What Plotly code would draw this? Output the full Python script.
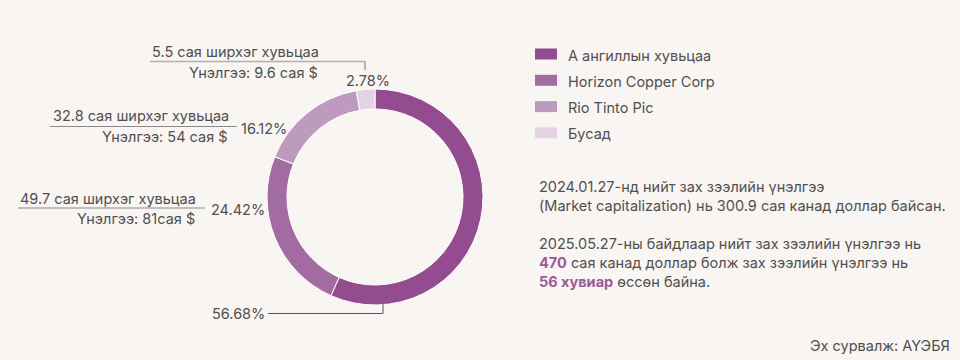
import plotly.graph_objects as go

# ---- data ----
labels = ["А ангиллын хувьцаа", "Horizon Copper Corp", "Rio Tinto Pic", "Бусад"]
shares_pct = [56.68, 24.42, 16.12, 2.78]
colors = ["#934c8f", "#a26ba1", "#bf9abf", "#e3d3e3"]
share_counts = [None, "49.7 сая ширхэг хувьцаа", "32.8 сая ширхэг хувьцаа", "5.5 сая ширхэг хувьцаа"]
valuations = [None, "Үнэлгээ: 81сая $", "Үнэлгээ: 54 сая $", "Үнэлгээ: 9.6 сая $"]
note1 = "2024.01.27-нд нийт зах зээлийн үнэлгээ<br>(Market capitalization) нь 300.9 сая канад доллар байсан."
note2 = ("2025.05.27-ны байдлаар нийт зах зээлийн үнэлгээ нь<br>"
         "<b><span style='color:#9b5a98'>470</span></b> сая канад доллар болж зах зээлийн үнэлгээ нь<br>"
         "<b><span style='color:#9b5a98'>56 хувиар</span></b> өссөн байна.")
source = "Эх сурвалж: АҮЭБЯ"

W, H = 960, 360
BG = "#f8f5f2"
TXT = "#505050"
FONT = "Inter"
FS = 14.5


def px(x):
    return x / W


def py(y):
    return 1 - y / H


fig = go.Figure()
fig.add_trace(go.Pie(
    labels=labels, values=shares_pct, hole=0.815, sort=False, direction="clockwise",
    rotation=0, marker=dict(colors=colors, line=dict(color="white", width=1)),
    textinfo="none", hoverinfo="label+percent", showlegend=False,
    domain=dict(x=[px(267), px(483)], y=[py(305), py(89)]),
))

ann = []
shapes = []


def text(x, y, t, anchor="left", size=FS, color=TXT):
    ann.append(dict(x=px(x), y=py(y), xref="paper", yref="paper", text=t, showarrow=False,
                    xanchor=anchor, yanchor="middle", font=dict(family=FONT, size=size, color=color),
                    align=anchor if anchor != "center" else "center"))


def line(x0, y0, x1, y1, color="#888888", width=1.2):
    shapes.append(dict(type="line", xref="paper", yref="paper", x0=px(x0), y0=py(y0), x1=px(x1), y1=py(y1),
                       line=dict(color=color, width=width)))


# 2.78% label (Бусад)
text(150, 52, share_counts[3], "left")
line(150, 61.5, 365, 61.5, "#b0b0b0", 1.5)
line(365, 61.5, 365, 70, "#777777", 1)
text(320, 73, valuations[3], "right")
text(344, 80, f"{shares_pct[3]:.2f}%", "left")

# 16.12% (Rio Tinto)
text(51, 116, share_counts[2], "left")
line(50, 126.5, 237, 126.5, "#8a8a8a", 1.2)
text(230, 136, valuations[2], "right")
text(239, 128, f"{shares_pct[2]:.2f}%", "left")

# 24.42% (Horizon)
text(18, 198, share_counts[1], "left")
line(18, 208, 205, 208, "#8a8a8a", 1.2)
text(197, 219, valuations[1], "right")
text(209, 209, f"{shares_pct[1]:.2f}%", "left")

# 56.68% (A class)
text(210, 313, f"{shares_pct[0]:.2f}%", "left")
line(268, 313.5, 383, 313.5, "#555555", 1)
line(383, 313.5, 383, 304, "#555555", 1)

# legend
for i, (lab, col) in enumerate(zip(labels, colors)):
    yc = 54 + i * 26.3
    shapes.append(dict(type="rect", xref="paper", yref="paper", x0=px(535), x1=px(557),
                       y0=py(yc - 5.5), y1=py(yc + 5.5), fillcolor=col, line=dict(width=0)))
    text(566, yc + 1, lab, "left")

# notes
ann.append(dict(x=px(537), y=py(196), xref="paper", yref="paper", text=note1, showarrow=False,
                xanchor="left", yanchor="middle", align="left",
                font=dict(family=FONT, size=FS, color=TXT)))
ann.append(dict(x=px(537), y=py(262), xref="paper", yref="paper", text=note2, showarrow=False,
                xanchor="left", yanchor="middle", align="left",
                font=dict(family=FONT, size=FS, color=TXT)))

text(952, 345, source, "right", FS)

fig.update_layout(
    width=W, height=H, margin=dict(l=0, r=0, t=0, b=0),
    paper_bgcolor=BG, plot_bgcolor=BG, annotations=ann, shapes=shapes, showlegend=False,
)
fig.write_html("out.html")
